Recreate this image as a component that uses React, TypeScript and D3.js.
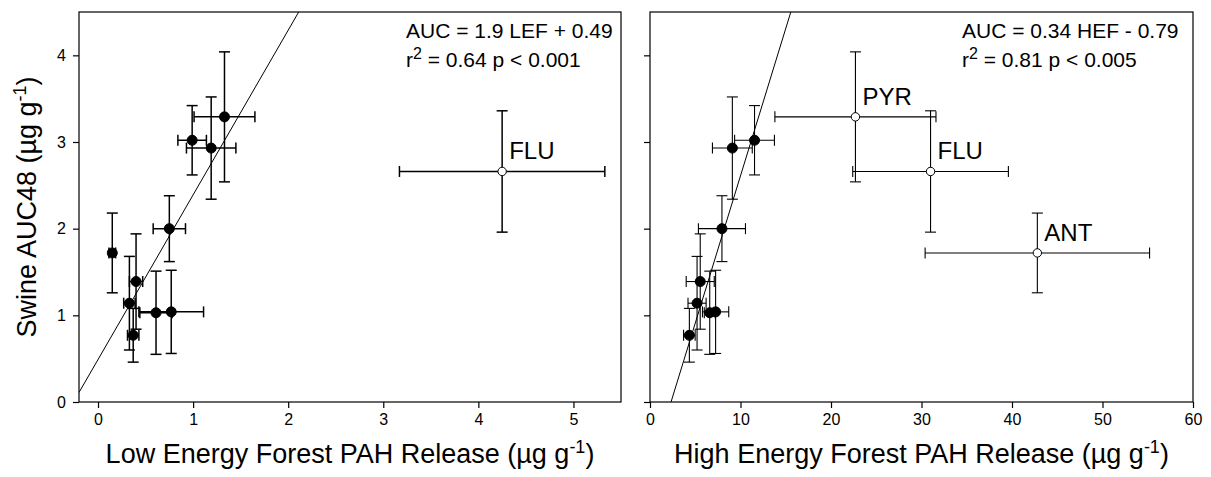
import React, { useEffect, useRef } from "react";
import * as d3 from "d3";

// compounds, in the order
const compounds = ["P1", "P2", "P3", "P4", "P5", "P6", "P7", "P8", "PYR", "FLU", "ANT"];
// Swine AUC48 (ug/g) with error
const auc = [0.77, 1.14, 1.39, 1.03, 1.04, 2.0, 2.93, 3.02, 3.29, 2.66, 1.72];
const aucErr = [0.31, 0.54, 0.55, 0.48, 0.48, 0.38, 0.59, 0.4, 0.75, 0.7, 0.46];
// low energy forest release
const lef = [0.37, 0.33, 0.4, 0.61, 0.77, 0.75, 1.19, 0.99, 1.33, 4.25, 0.15];
const lefErr = [0.06, 0.06, 0.07, 0.17, 0.34, 0.17, 0.26, 0.15, 0.32, 1.08, 0.035];
// high energy forest release
const hef = [4.35, 5.2, 5.55, 6.6, 7.25, 7.95, 9.1, 11.55, 22.7, 31.0, 42.8];
const hefErr = [0.64, 1.0, 1.55, 0.6, 1.45, 2.6, 2.2, 2.2, 8.9, 8.6, 12.4];

const lefOutliers = ["FLU"];
const hefOutliers = ["PYR", "FLU", "ANT"];

const aucTicks = [0, 1, 2, 3, 4];
const lefTicks = [0, 1, 2, 3, 4, 5];
const hefTicks = [0, 10, 20, 30, 40, 50, 60];

const lefFit = [1.9, 0.49];
const hefFit = [0.34, -0.79];
const eqLabels = ["AUC = 1.9 LEF + 0.49", "AUC = 0.34 HEF - 0.79"];
const r2Labels = [" = 0.64 p < 0.001", " = 0.81 p < 0.005"];
const xTitles = ["Low Energy Forest PAH Release (\u00b5g g", "High Energy Forest PAH Release (\u00b5g g"];

const FONT = "'Liberation Sans', Arial, Helvetica, sans-serif";

function App() {
  const ref = useRef(null);

  useEffect(() => {
    const svg = d3.select(ref.current);
    svg.selectAll("*").remove();

    const top = 12, bottom = 402;
    var y = d3.scaleLinear().domain([0, 4.5]).range([bottom, top]);

    const panels = [
      { x0: 79, x1: 621, domain: [-0.2, 5.5], xs: lef, xe: lefErr, ticks: lefTicks, open: lefOutliers, fit: lefFit, sw: 1.5, eqX: 406, labelY: true },
      { x0: 650, x1: 1193, domain: [0, 60], xs: hef, xe: hefErr, ticks: hefTicks, open: hefOutliers, fit: hefFit, sw: 1.1, eqX: 962, labelY: false },
    ];

    panels.forEach(function (p, i) {
      var x = d3.scaleLinear().domain(p.domain).range([p.x0, p.x1]);
      var g = svg.append("g");

      // clip for the fit line
      var clipId = "clip" + i;
      svg.append("clipPath").attr("id", clipId)
        .append("rect")
        .attr("x", p.x0).attr("y", top)
        .attr("width", p.x1 - p.x0).attr("height", bottom - top);

      // frame
      g.append("rect")
        .attr("x", p.x0).attr("y", top)
        .attr("width", p.x1 - p.x0).attr("height", bottom - top)
        .attr("fill", "none").attr("stroke", "#000").attr("stroke-width", 1.2);

      // axes
      var xAxis = g.append("g")
        .attr("transform", "translate(0," + bottom + ")")
        .call(d3.axisBottom(x).tickValues(p.ticks).tickSize(6).tickSizeOuter(0).tickPadding(6).tickFormat(d3.format("d")));
      var yAxis = g.append("g")
        .attr("transform", "translate(" + p.x0 + ",0)")
        .call(d3.axisLeft(y).tickValues(aucTicks).tickSize(6).tickSizeOuter(0).tickPadding(7).tickFormat(p.labelY ? d3.format("d") : () => ""));
      [xAxis, yAxis].forEach(function (a) {
        a.select(".domain").remove();
        a.selectAll("line").attr("stroke", "#000").attr("stroke-width", 1.2);
        a.selectAll("text").attr("font-family", FONT).attr("font-size", 16).attr("fill", "#000");
      });

      // regression line
      var fx = function (v) { return p.fit[0] * v + p.fit[1]; };
      g.append("line")
        .attr("clip-path", "url(#" + clipId + ")")
        .attr("x1", x(p.domain[0])).attr("y1", y(fx(p.domain[0])))
        .attr("x2", x(p.domain[1])).attr("y2", y(fx(p.domain[1])))
        .attr("stroke", "#000").attr("stroke-width", 1);

      // error bars
      const cap = 5.5;
      var bars = g.append("g").attr("stroke", "#000").attr("stroke-width", p.sw);
      compounds.forEach(function (c, k) {
        var cx = x(p.xs[k]), cy = y(auc[k]);
        var xl = x(p.xs[k] - p.xe[k]), xr = x(p.xs[k] + p.xe[k]);
        var yt = y(auc[k] + aucErr[k]), yb = y(auc[k] - aucErr[k]);
        bars.append("line").attr("x1", xl).attr("x2", xr).attr("y1", cy).attr("y2", cy);
        bars.append("line").attr("x1", xl).attr("x2", xl).attr("y1", cy - cap).attr("y2", cy + cap);
        bars.append("line").attr("x1", xr).attr("x2", xr).attr("y1", cy - cap).attr("y2", cy + cap);
        bars.append("line").attr("x1", cx).attr("x2", cx).attr("y1", yt).attr("y2", yb);
        bars.append("line").attr("x1", cx - cap).attr("x2", cx + cap).attr("y1", yt).attr("y2", yt);
        bars.append("line").attr("x1", cx - cap).attr("x2", cx + cap).attr("y1", yb).attr("y2", yb);
      });

      // points
      compounds.forEach(function (c, k) {
        var open = p.open.indexOf(c) >= 0;
        g.append("circle")
          .attr("cx", x(p.xs[k])).attr("cy", y(auc[k]))
          .attr("r", open ? 4.2 : 5)
          .attr("fill", open ? "#fff" : "#000")
          .attr("stroke", "#000").attr("stroke-width", 1);
        if (open) {
          g.append("text")
            .attr("x", x(p.xs[k]) + 7).attr("y", y(auc[k]) - 12)
            .attr("font-family", FONT).attr("font-size", 24)
            .text(c);
        }
      });

      // equation text
      g.append("text")
        .attr("x", p.eqX).attr("y", 38)
        .attr("font-family", FONT).attr("font-size", 21)
        .text(eqLabels[i]);
      var r2 = g.append("text")
        .attr("x", p.eqX).attr("y", 67)
        .attr("font-family", FONT).attr("font-size", 21);
      r2.append("tspan").text("r");
      r2.append("tspan").attr("dy", -8).attr("font-size", 16).text("2");
      r2.append("tspan").attr("dy", 8).text(r2Labels[i]);

      // x title
      var xt = g.append("text")
        .attr("x", (p.x0 + p.x1) / 2).attr("y", 463)
        .attr("text-anchor", "middle")
        .attr("font-family", FONT).attr("font-size", 27);
      xt.append("tspan").text(xTitles[i]);
      xt.append("tspan").attr("dy", -10).attr("font-size", 18).text("-1");
      xt.append("tspan").attr("dy", 10).text(")");
    });

    // y title
    var yt = svg.append("text")
      .attr("transform", "translate(36," + (top + bottom) / 2 + ") rotate(-90)")
      .attr("text-anchor", "middle")
      .attr("font-family", FONT).attr("font-size", 27);
    yt.append("tspan").text("Swine AUC48 (\u00b5g g");
    yt.append("tspan").attr("dy", -10).attr("font-size", 18).text("-1");
    yt.append("tspan").attr("dy", 10).text(")");
  }, []);

  return (
    <svg ref={ref} width={1211} height={477}
      style={{ position: "absolute", left: 0, top: 0, background: "#fff" }}></svg>
  );
}

export default App;
